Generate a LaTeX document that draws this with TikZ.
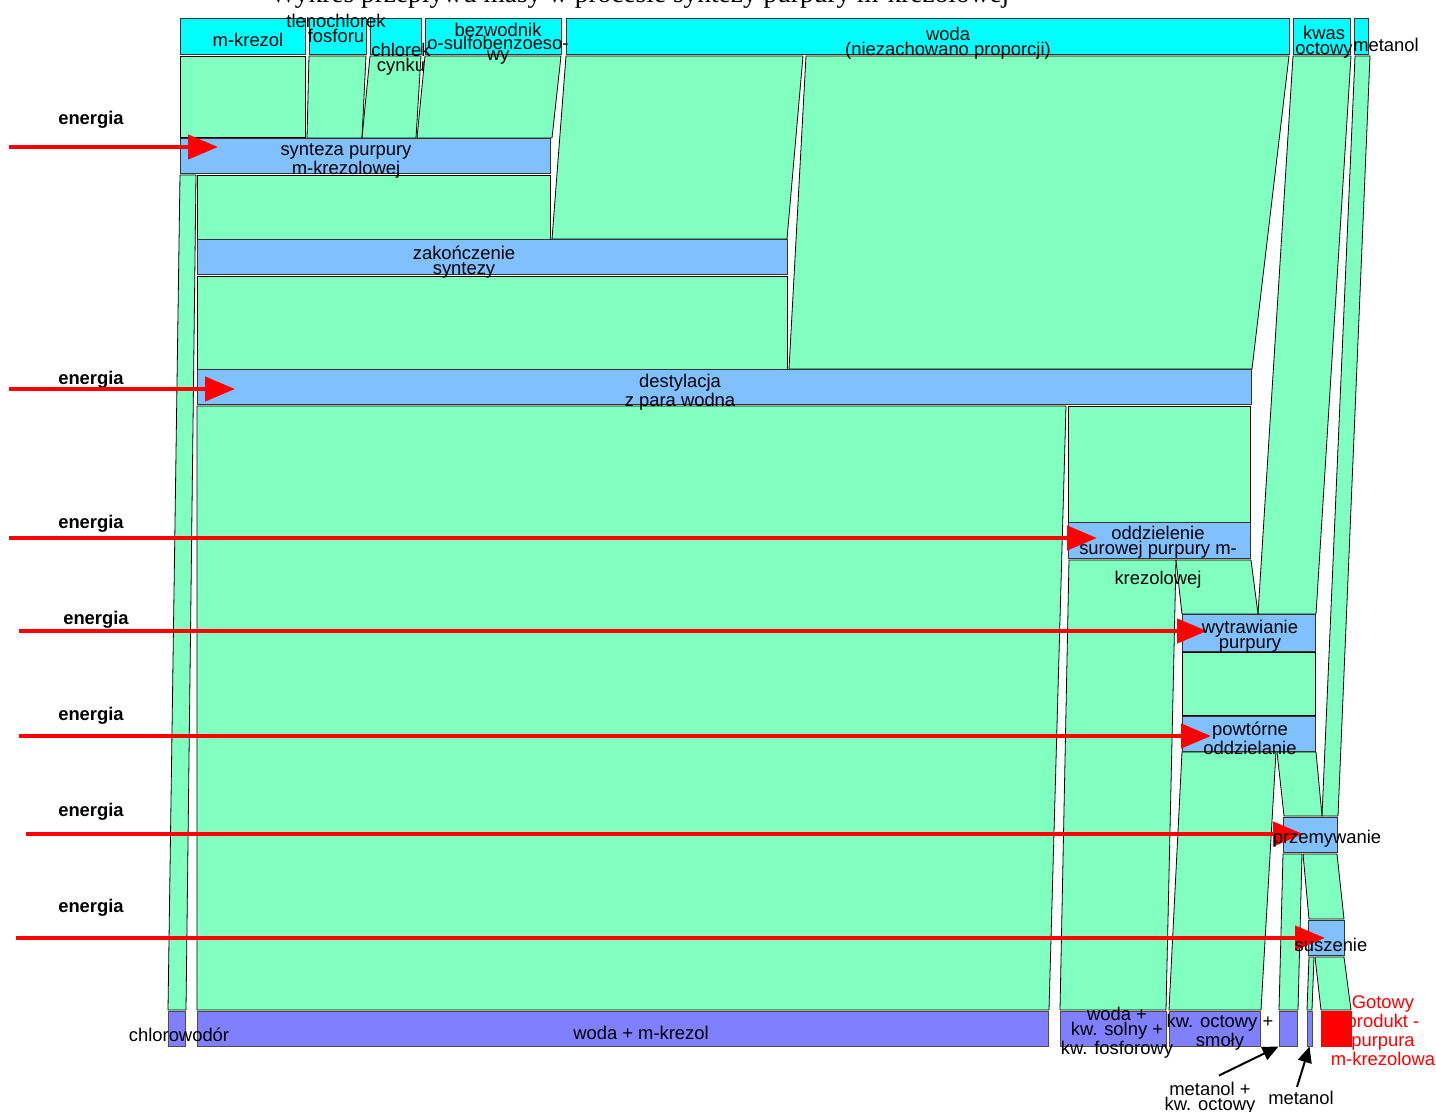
\documentclass[tikz,border=0pt]{standalone}
\usepackage{fontspec}
\setmainfont{Liberation Sans}
\newfontfamily\titlefont{Liberation Serif}
\usetikzlibrary{arrows.meta}
\usetikzlibrary{fit}
\usetikzlibrary{positioning}
\definecolor{inflow}{RGB}{0,255,255}
\definecolor{stream}{RGB}{128,255,192}
\definecolor{process}{RGB}{128,192,255}
\definecolor{outflow}{RGB}{128,128,255}
\definecolor{product}{RGB}{255,0,0}

\begin{document}
\begin{tikzpicture}[x=0.5pt,y=-0.5pt,
  band/.style={fill=stream, draw=black, line width=0.4pt},
  inbox/.style={draw=black!80, fill=inflow, inner sep=0pt, line width=0.5pt},
  procbox/.style={draw=black!80, fill=process, inner sep=0pt, line width=0.5pt},
  outbox/.style={draw=black!70, fill=outflow, inner sep=0pt, line width=0.5pt},
  lbl/.style={font=\fontsize{9.2}{7.5}\selectfont, align=center, inner sep=0pt},
  elbl/.style={font=\fontsize{9.2}{7.5}\selectfont\bfseries, inner sep=0pt},
  energy/.style={draw=red, line width=2.2pt, -{Triangle[length=15pt,width=12pt]}},
  pointer/.style={draw=black, line width=1pt, -{Triangle[length=8pt,width=7pt]}}]

\useasboundingbox (0,0) rectangle (1436,1112);

% Title (cut at the top edge)
\node[font=\titlefont\fontsize{13.7}{16}\selectfont, anchor=base] (title) at (640,3)
  {Wykres przepływu masy w procesie syntezy purpury m-krezolowej};

%---------------------------------------
% Streams
%---------------------------------------
% inputs -> synteza
\filldraw[band] (180,56) -- (305,56) -- (305,137) -- (180,137) -- cycle;
\filldraw[band] (309,56) -- (366,56) -- (362,138) -- (307,138) -- cycle;
\filldraw[band] (370,56) -- (421,56) -- (416,138) -- (362,138) -- cycle;
\filldraw[band] (425,56) -- (561,56) -- (552,138) -- (417,138) -- cycle;
% woda
\filldraw[band] (566,56) -- (803,56) -- (787,239) -- (552,239) -- cycle;
\filldraw[band] (806,56) -- (1289,56) -- (1252,369) -- (789,369) -- cycle;
% kwas octowy, metanol
\filldraw[band] (1293,56) -- (1351,56) -- (1316,614) -- (1258,614) -- cycle;
\filldraw[band] (1355,56) -- (1370,56) -- (1338,816) -- (1322,816) -- cycle;
% synteza -> chlorowodor, zakonczenie
\filldraw[band] (180,175) -- (196,175) -- (186,1010) -- (168,1010) -- cycle;
\filldraw[band] (197,175) -- (550,175) -- (550,239) -- (197,239) -- cycle;
% zakonczenie -> destylacja
\filldraw[band] (197,276) -- (787,276) -- (787,369) -- (197,369) -- cycle;
% destylacja -> woda + m-krezol, oddzielenie
\filldraw[band] (197,406) -- (1066,406) -- (1049,1010) -- (197,1010) -- cycle;
\filldraw[band] (1068,406) -- (1250,406) -- (1250,522) -- (1068,522) -- cycle;
% oddzielenie -> kw. solny, wytrawianie
\filldraw[band] (1069,560) -- (1176,560) -- (1166,1010) -- (1060,1010) -- cycle;
\filldraw[band] (1176,560) -- (1251,560) -- (1258,614) -- (1182,614) -- cycle;
% wytrawianie -> powtorne
\filldraw[band] (1182,652) -- (1315,652) -- (1315,715) -- (1182,715) -- cycle;
% powtorne -> smoly, przemywanie
\filldraw[band] (1182,752) -- (1276,752) -- (1261,1010) -- (1169,1010) -- cycle;
\filldraw[band] (1277,752) -- (1316,752) -- (1322,816) -- (1284,816) -- cycle;
% przemywanie -> metanol + kw. octowy, suszenie
\filldraw[band] (1283,854) -- (1302,854) -- (1298,1010) -- (1279,1010) -- cycle;
\filldraw[band] (1303,854) -- (1337,854) -- (1344,919) -- (1309,919) -- cycle;
% suszenie -> metanol, produkt
\filldraw[band] (1309,957) -- (1314,957) -- (1312,1010) -- (1307,1010) -- cycle;
\filldraw[band] (1315,957) -- (1344,957) -- (1351,1010) -- (1321,1010) -- cycle;

%---------------------------------------
% Inputs
%---------------------------------------
\node[inbox, fit={(180,19) (305,55)}] (inKrezol) {};
\node[inbox, fit={(309,19) (366,55)}] (inTlen) {};
\node[inbox, fit={(370,19) (421,55)}] (inChlorek) {};
\node[inbox, fit={(425,19) (561,55)}] (inBezw) {};
\node[inbox, fit={(566,19) (1289,55)}] (inWoda) {};
\node[inbox, fit={(1293,19) (1350,55)}] (inKwas) {};
\node[inbox, fit={(1354,19) (1368,55)}] (inMet) {};

%---------------------------------------
% Process steps
%---------------------------------------
\node[procbox, fit={(180,139) (550,174)}] (synteza) {};
\node[procbox, fit={(197,240) (787,275)}] (zakoncz) {};
\node[procbox, fit={(197,370) (1251,405)}] (destyl) {};
\node[procbox, fit={(1068,523) (1250,559)}] (oddziel) {};
\node[procbox, fit={(1182,615) (1315,651)}] (wytraw) {};
\node[procbox, fit={(1182,716) (1315,751)}] (powt) {};
\node[procbox, fit={(1283,817) (1337,852)}] (przem) {};
\node[procbox, fit={(1308,920) (1344,955)}] (susz) {};

%---------------------------------------
% Outputs
%---------------------------------------
\node[outbox, fit={(168,1011) (185,1046)}] (outHCl) {};
\node[outbox, fit={(197,1011) (1048,1046)}] (outWoda) {};
\node[outbox, fit={(1060,1011) (1166,1046)}] (outSolny) {};
\node[outbox, fit={(1169,1011) (1260,1046)}] (outSmoly) {};
\node[outbox, fit={(1279,1011) (1297,1046)}] (outMetKw) {};
\node[outbox, fit={(1307,1011) (1312,1046)}] (outMet) {};
\node[draw=product, fill=product, inner sep=0pt, fit={(1321,1011) (1351,1046)}] (outProd) {};

%---------------------------------------
% Energy
%---------------------------------------
\node[elbl] (en1) at (91,120) {energia};
\node[elbl] (en2) at (91,380) {energia};
\node[elbl] (en3) at (91,524) {energia};
\node[elbl] (en4) at (96,620) {energia};
\node[elbl] (en5) at (91,716) {energia};
\node[elbl] (en6) at (91,812) {energia};
\node[elbl] (en7) at (91,908) {energia};

\coordinate (e1a) at (9,147);    \coordinate (e1b) at (218,147);
\coordinate (e2a) at (9,389);    \coordinate (e2b) at (235,389);
\coordinate (e3a) at (9,538);    \coordinate (e3b) at (1097,538);
\coordinate (e4a) at (19,631);   \coordinate (e4b) at (1207,631);
\coordinate (e5a) at (19,736);   \coordinate (e5b) at (1211,736);
\coordinate (e6a) at (26,834);   \coordinate (e6b) at (1303,834);
\coordinate (e7a) at (16,938);   \coordinate (e7b) at (1325,938);

\draw[energy] (e1a) -- (e1b);
\draw[energy] (e2a) -- (e2b);
\draw[energy] (e3a) -- (e3b);
\draw[energy] (e4a) -- (e4b);
\draw[energy] (e5a) -- (e5b);
\draw[energy] (e6a) -- (e6b);
\draw[energy] (e7a) -- (e7b);

%---------------------------------------
% Labels
%---------------------------------------
\node[lbl] (lKrezol) at (248,40) {m-krezol};
\node[lbl] (lTlen) at (336,28) {tlenochlorek\\fosforu};
\node[lbl] (lChlorek) at (401,59) {chlorek\\cynku};
\node[lbl] (lBezw) at (498,44) {bezwodnik\\[-1.2pt]o-sulfobenzoeso-\\[-2pt]wy};
\node[lbl] (lWoda) at (948,43) {woda\\(niezachowano proporcji)};
\node[lbl] (lKwas) at (1324,42) {kwas\\octowy};
\node[lbl] (lMet) at (1386,45) {metanol};

\node[lbl] (lSynteza) at (346,161) {synteza purpury\\m-krezolowej};
\node[lbl] (lZakoncz) at (464,262) {zakończenie\\syntezy};
\node[lbl] (lDestyl) at (680,392) {destylacja\\z para wodna};
\node[lbl] (lOddziel) at (1158,557) {oddzielenie\\surowej purpury m-\\[5.5pt]krezolowej};
\node[lbl] (lWytraw) at (1250,636) {wytrawianie\\purpury};
\node[lbl] (lPowt) at (1250,738) {powtórne\\oddzielanie};
\node[lbl] (lPrzem) at (1327,839) {przemywanie};
\node[lbl] (lSusz) at (1331,945) {suszenie};

\node[lbl] (lHCl) at (179,1035) {chlorowodór};
\node[lbl] (lWodaKrezol) at (641,1033) {woda + m-krezol};
\node[lbl] (lSolny) at (1117,1033) {woda +\\kw. solny +\\kw. fosforowy};
\node[lbl] (lSmoly) at (1220,1032) {kw. octowy +\\smoły};
\node[lbl] (lMetKw) at (1210,1098) {metanol +\\kw. octowy};
\node[lbl] (lMet2) at (1301,1098) {metanol};
\node[lbl, red, font=\fontsize{9.2}{9.5}\selectfont] (lProd) at (1383,1031)
  {Gotowy\\produkt -\\purpura\\m-krezolowa};

\draw[pointer] (lMetKw.north)++(9,-6) -- (outMetKw.south west);
\draw[pointer] (lMet2.north)++(-4,-4) -- (outMet.south);

\end{tikzpicture}
\end{document}
